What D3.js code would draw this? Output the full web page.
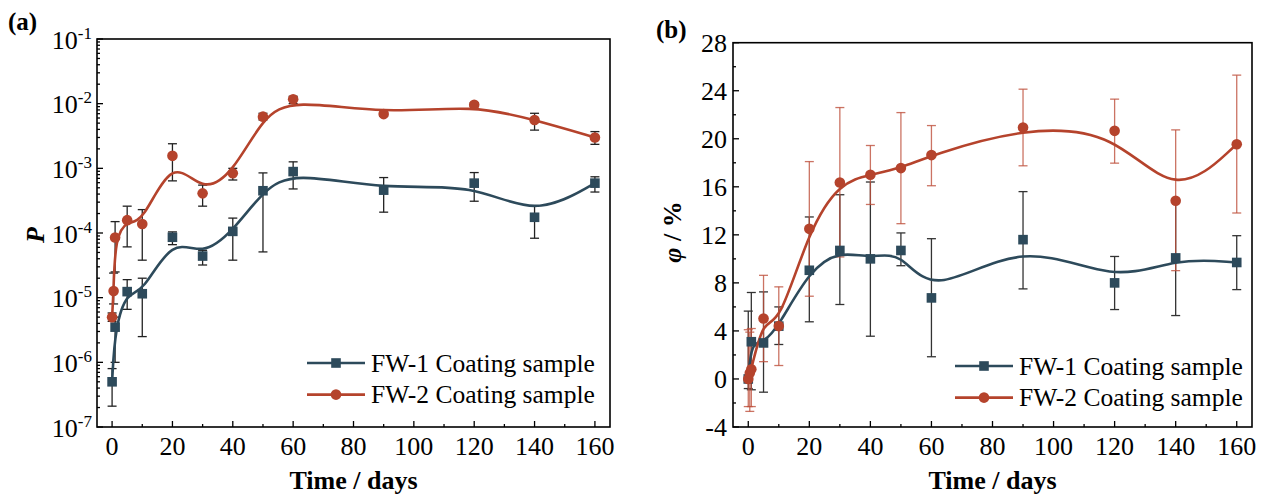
<!DOCTYPE html>
<html>
<head>
<meta charset="utf-8">
<script src="https://cdn.jsdelivr.net/npm/d3@7"></script>
<style>
  body { margin: 0; background: #fff; }
  svg text { font-family: "Liberation Serif", "Times New Roman", serif; fill: #000; }
</style>
</head>
<body>
<svg width="1262" height="497"></svg>
<script>
var svg = d3.select("svg");

var c1 = "#2d4a5b";
var c2 = "#b5432c";

// days of measurement
var days1 = [0, 1, 5, 10, 20, 30, 40, 50, 60, 90, 120, 140, 160];
var days2 = [0, 0.5, 1, 5, 10, 20, 30, 40, 50, 60, 90, 120, 140, 160];

// (a) P, log scale
var p1   = [5.0e-7, 3.5e-6, 1.24e-5, 1.15e-5, 8.6e-5, 4.4e-5, 1.06e-4, 4.5e-4, 8.9e-4, 4.6e-4, 5.9e-4, 1.75e-4, 5.9e-4];
var p1Lo = [2.1e-7, 1.0e-6, 6.6e-6, 2.5e-6, 6.6e-5, 3.2e-5, 3.8e-5, 5.1e-5, 4.8e-4, 2.1e-4, 3.1e-4, 8.3e-5, 4.3e-4];
var p1Hi = [8.0e-7, 5.0e-6, 1.9e-5, 2.0e-5, 1.04e-4, 5.4e-5, 1.7e-4, 8.5e-4, 1.26e-3, 7.2e-4, 8.6e-4, 2.6e-4, 7.4e-4];
var p2   = [5.0e-6, 1.27e-5, 8.5e-5, 1.58e-4, 1.38e-4, 1.56e-3, 4.1e-4, 8.4e-4, 6.3e-3, 1.17e-2, 6.9e-3, 9.6e-3, 5.6e-3, 3.0e-3];
var p2Lo = [4.3e-6, 8.0e-6, 2.5e-5, 6.1e-5, 3.8e-5, 6.4e-4, 2.6e-4, 6.6e-4, 5.6e-3, 1.0e-2, 6.4e-3, 9.0e-3, 3.9e-3, 2.35e-3];
var p2Hi = [5.8e-6, 2.4e-5, 1.5e-4, 2.6e-4, 2.3e-4, 2.4e-3, 5.5e-4, 1.0e-3, 7.1e-3, 1.3e-2, 7.4e-3, 1.03e-2, 7.1e-3, 3.7e-3];

// (b) phi, %
var f1   = [0, 3.1, 3.0, 4.4, 9.05, 10.7, 10.0, 10.7, 6.75, 11.6, 8.0, 10.08, 9.7];
var f1Lo = [-0.8, -0.9, -1.1, 2.87, 4.76, 6.2, 3.56, 9.43, 1.85, 7.5, 5.78, 5.28, 7.44];
var f1Hi = [5.65, 7.2, 7.25, 6.0, 13.49, 15.34, 16.4, 12.16, 11.68, 15.6, 10.2, 14.9, 11.93];
var f2   = [0, 0.5, 0.8, 5.03, 4.4, 12.5, 16.36, 17.0, 17.56, 18.64, 20.93, 20.66, 14.84, 19.55];
var f2Lo = [-2.3, -2.7, -2.3, 1.44, 1.12, 6.89, 10.16, 14.53, 12.93, 16.09, 17.75, 17.97, 9.02, 13.82];
var f2Hi = [4.1, 3.9, 4.2, 8.63, 7.67, 18.1, 22.6, 19.44, 22.18, 21.1, 24.13, 23.3, 20.74, 25.3];

var xTicks = [0, 20, 40, 60, 80, 100, 120, 140, 160];
var xMinor = [10, 30, 50, 70, 90, 110, 130, 150];
var pTicks = [1e-7, 1e-6, 1e-5, 1e-4, 1e-3, 1e-2, 1e-1];
var fTicks = [-4, 0, 4, 8, 12, 16, 20, 24, 28];
var fMinor = [-2, 2, 6, 10, 14, 18, 22, 26];
var names = ["FW-1 Coating sample", "FW-2 Coating sample"];

function rows(days, v, lo, hi) {
  return days.map(function(d, i) { return {x: d, y: v[i], lo: lo[i], hi: hi[i]}; });
}

function panel(o) {
  var g = svg.append("g");
  var x = d3.scaleLinear().domain([-5, 165]).range([o.left, o.right]);
  var y = o.y;
  var top = o.top, bottom = o.bottom;

  // ticks, inward
  var ax = g.append("g").attr("stroke", "#000").attr("stroke-width", 1.3);
  xTicks.forEach(function(t) {
    ax.append("line").attr("x1", x(t)).attr("x2", x(t)).attr("y1", bottom).attr("y2", bottom - 6);
  });
  xMinor.forEach(function(t) {
    ax.append("line").attr("x1", x(t)).attr("x2", x(t)).attr("y1", bottom).attr("y2", bottom - 3);
  });
  o.yMajor.forEach(function(t) {
    ax.append("line").attr("x1", o.left).attr("x2", o.left + 6).attr("y1", y(t)).attr("y2", y(t));
  });
  o.yMinor.forEach(function(t) {
    ax.append("line").attr("x1", o.left).attr("x2", o.left + 3).attr("y1", y(t)).attr("y2", y(t));
  });

  g.selectAll(".xl").data(xTicks).enter().append("text")
    .attr("x", function(d) { return x(d); })
    .attr("y", bottom + 28)
    .attr("text-anchor", "middle")
    .style("font-size", "26px")
    .text(function(d) { return d; });

  o.yLabels(g, y);

  // error bars
  o.series.forEach(function(s) {
    var eb = g.append("g").attr("stroke", s.err).attr("stroke-width", 1.3);
    s.data.forEach(function(d) {
      eb.append("line").attr("x1", x(d.x)).attr("x2", x(d.x)).attr("y1", y(d.lo)).attr("y2", y(d.hi));
      [d.lo, d.hi].forEach(function(v) {
        eb.append("line").attr("x1", x(d.x) - 4.5).attr("x2", x(d.x) + 4.5).attr("y1", y(v)).attr("y2", y(v));
      });
    });
  });

  // smoothed curves
  o.series.forEach(function(s) {
    g.append("path")
      .datum(s.data)
      .attr("fill", "none")
      .attr("stroke", s.color)
      .attr("stroke-width", 2.6)
      .attr("d", d3.line().x(function(d) { return x(d.x); }).y(function(d) { return y(d.y); }).curve(d3.curveBasis));
  });

  // markers
  o.series.forEach(function(s) {
    var m = g.selectAll(null).data(s.data).enter();
    if (s.shape === "square") {
      m.append("rect")
        .attr("x", function(d) { return x(d.x) - 4.8; })
        .attr("y", function(d) { return y(d.y) - 4.8; })
        .attr("width", 9.6).attr("height", 9.6)
        .attr("fill", s.color);
    } else {
      m.append("circle")
        .attr("cx", function(d) { return x(d.x); })
        .attr("cy", function(d) { return y(d.y); })
        .attr("r", 5.3)
        .attr("fill", s.color);
    }
  });

  // frame
  g.append("rect")
    .attr("x", o.left).attr("y", top)
    .attr("width", o.right - o.left).attr("height", bottom - top)
    .attr("fill", "none").attr("stroke", "#000").attr("stroke-width", 1.6);

  // legend
  o.series.forEach(function(s, i) {
    var ly = o.legY + i * 31.6;
    var lx = o.legX;
    g.append("line").attr("x1", lx).attr("x2", lx + 58).attr("y1", ly).attr("y2", ly)
      .attr("stroke", s.color).attr("stroke-width", 2.6);
    if (s.shape === "square") {
      g.append("rect").attr("x", lx + 29 - 4.8).attr("y", ly - 4.8).attr("width", 9.6).attr("height", 9.6).attr("fill", s.color);
    } else {
      g.append("circle").attr("cx", lx + 29).attr("cy", ly).attr("r", 5.3).attr("fill", s.color);
    }
    g.append("text").attr("x", lx + 64).attr("y", ly + 8.5)
      .style("font-size", "25.5px").text(names[i]);
  });

  // x title
  g.append("text")
    .attr("x", (o.left + o.right) / 2).attr("y", bottom + 62)
    .attr("text-anchor", "middle")
    .style("font-size", "26px").style("font-weight", "bold")
    .text("Time / days");

  // panel label
  g.append("text").attr("x", o.tagX).attr("y", o.tagY)
    .style("font-size", "25px").style("font-weight", "bold").text(o.tag);

  return g;
}

// panel (a)
var yA = d3.scaleLog().domain([1e-7, 1e-1]).range([427, 39]);
var minorA = [];
pTicks.slice(0, -1).forEach(function(t) {
  for (var k = 2; k <= 9; k++) minorA.push(t * k);
});

var gA = panel({
  left: 97, right: 610, top: 39, bottom: 427,
  y: yA, yMajor: pTicks, yMinor: minorA,
  yLabels: function(g, y) {
    pTicks.forEach(function(t) {
      var e = Math.round(Math.log10(t));
      var tx = g.append("text")
        .attr("x", 92).attr("y", y(t) + 9.5)
        .attr("text-anchor", "end")
        .style("font-size", "26px");
      tx.append("tspan").text("10");
      tx.append("tspan").attr("dy", "-10").style("font-size", "17px").text(String(e));
    });
  },
  series: [
    {data: rows(days1, p1, p1Lo, p1Hi), color: c1, err: "#222", shape: "square"},
    {data: rows(days2, p2, p2Lo, p2Hi), color: c2, err: "#222", shape: "circle"}
  ],
  legX: 307, legY: 363,
  tag: "(a)", tagX: 8, tagY: 30
});

gA.append("text")
  .attr("transform", "translate(44,235) rotate(-90)")
  .attr("text-anchor", "middle")
  .style("font-size", "26px").style("font-weight", "bold").style("font-style", "italic")
  .text("P");

// panel (b)
var yB = d3.scaleLinear().domain([-4, 28]).range([427, 42.7]);
var gB = panel({
  left: 733, right: 1252, top: 42.7, bottom: 427,
  y: yB, yMajor: fTicks, yMinor: fMinor,
  yLabels: function(g, y) {
    fTicks.forEach(function(t) {
      g.append("text")
        .attr("x", 727).attr("y", y(t) + 9)
        .attr("text-anchor", "end")
        .style("font-size", "26px")
        .text(t);
    });
  },
  series: [
    {data: rows(days1, f1, f1Lo, f1Hi), color: c1, err: "#333", shape: "square"},
    {data: rows(days2, f2, f2Lo, f2Hi), color: c2, err: "rgba(190,80,60,0.8)", shape: "circle"}
  ],
  legX: 955, legY: 366,
  tag: "(b)", tagX: 656, tagY: 38
});

var tB = gB.append("text")
  .attr("transform", "translate(681,232) rotate(-90)")
  .attr("text-anchor", "middle")
  .style("font-size", "26px").style("font-weight", "bold");
tB.append("tspan").style("font-style", "italic").text("φ");
tB.append("tspan").text(" / %");
</script>
</body>
</html>
